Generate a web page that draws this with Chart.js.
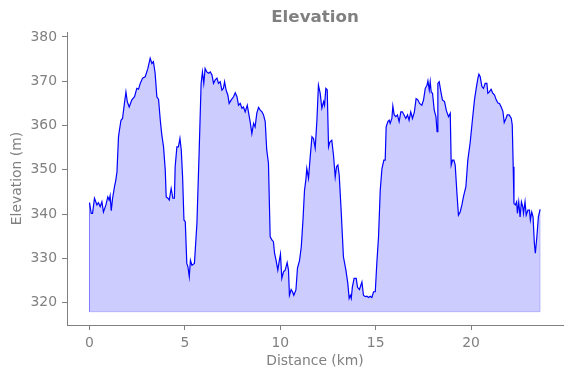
<!DOCTYPE html>
<html>
<head>
<meta charset="utf-8">
<script src="https://cdn.jsdelivr.net/npm/chart.js@4/dist/chart.umd.min.js"></script>
<style>
  html, body { margin: 0; padding: 0; background: #fff; }
  #wrap { width: 571px; height: 378px; }
</style>
</head>
<body>
<div id="wrap"><canvas id="elevChart" width="571" height="378"></canvas></div>
<script>
// Elevation profile
const distKm = [
  0.00, 0.09, 0.16, 0.26, 0.39, 0.47, 0.56, 0.65, 0.73, 0.86, 0.96, 1.03, 1.08, 1.14, 1.21,
  1.31, 1.38, 1.44, 1.52, 1.57, 1.65, 1.73, 1.83, 1.91, 1.98, 2.08, 2.22, 2.36, 2.48, 2.57,
  2.66, 2.78, 2.92, 3.06, 3.18, 3.27, 3.35, 3.44, 3.53, 3.62, 3.71, 3.79, 3.88, 3.97, 4.02,
  4.11, 4.18, 4.28, 4.37, 4.45, 4.49, 4.58, 4.66, 4.74, 4.81, 4.88, 4.95, 5.02, 5.10, 5.16,
  5.23, 5.29, 5.37, 5.50, 5.63, 5.75, 5.85, 5.92, 5.99, 6.06, 6.15, 6.24, 6.33, 6.42, 6.50,
  6.59, 6.68, 6.76, 6.85, 6.94, 7.02, 7.08, 7.16, 7.25, 7.32, 7.43, 7.55, 7.64, 7.73, 7.81,
  7.90, 7.99, 8.07, 8.16, 8.27, 8.33, 8.42, 8.51, 8.60, 8.68, 8.77, 8.86, 8.95, 9.04, 9.12,
  9.21, 9.29, 9.38, 9.47, 9.56, 9.64, 9.70, 9.78, 9.87, 9.94, 10.01, 10.08, 10.17, 10.26, 10.36,
  10.43, 10.48, 10.57, 10.64, 10.71, 10.82, 10.90, 11.01, 11.10, 11.19, 11.27, 11.34, 11.39, 11.48, 11.57,
  11.66, 11.74, 11.83, 11.92, 12.00, 12.09, 12.18, 12.27, 12.32, 12.39, 12.46, 12.53, 12.60, 12.70, 12.79,
  12.88, 12.95, 13.02, 13.09, 13.19, 13.31, 13.44, 13.54, 13.61, 13.67, 13.72, 13.78, 13.87, 13.98, 14.05,
  14.15, 14.28, 14.36, 14.45, 14.54, 14.63, 14.71, 14.80, 14.89, 14.98, 15.06, 15.15, 15.24, 15.33, 15.43,
  15.50, 15.55, 15.64, 15.71, 15.76, 15.85, 15.90, 15.97, 16.06, 16.14, 16.23, 16.32, 16.40, 16.49, 16.58,
  16.67, 16.75, 16.84, 16.93, 17.03, 17.12, 17.21, 17.30, 17.42, 17.51, 17.60, 17.69, 17.74, 17.81, 17.86,
  17.91, 17.98, 18.07, 18.16, 18.22, 18.26, 18.33, 18.42, 18.50, 18.61, 18.71, 18.82, 18.91, 18.96, 19.03,
  19.10, 19.17, 19.26, 19.34, 19.43, 19.52, 19.60, 19.73, 19.83, 19.95, 20.07, 20.18, 20.27, 20.36, 20.41,
  20.48, 20.57, 20.65, 20.74, 20.83, 20.88, 20.96, 21.05, 21.14, 21.23, 21.32, 21.41, 21.49, 21.58, 21.67,
  21.74, 21.82, 21.90, 22.00, 22.11, 22.16, 22.21, 22.25, 22.32, 22.39, 22.43, 22.50, 22.57, 22.64, 22.71,
  22.75, 22.83, 22.89, 22.98, 23.06, 23.11, 23.18, 23.25, 23.32, 23.37, 23.45, 23.53, 23.62
];
const elevM = [
  342.6, 340.2, 340.2, 343.6, 342.1, 342.6, 341.7, 342.8, 340.5, 342.1, 343.9, 343.2, 344.2, 340.8, 343.6,
  346.2, 347.7, 349.6, 357.5, 359.0, 361.2, 361.6, 365.0, 367.6, 365.4, 364.2, 365.8, 366.5, 368.4, 368.2,
  369.5, 370.7, 371.0, 372.9, 375.2, 374.0, 374.4, 371.8, 366.5, 365.9, 361.2, 357.9, 355.2, 350.0, 343.9,
  343.6, 343.2, 345.8, 343.6, 343.6, 350.7, 355.2, 355.2, 357.1, 354.5, 348.4, 338.7, 338.3, 328.9, 328.1,
  325.9, 329.6, 328.5, 328.9, 337.9, 354.5, 369.5, 372.1, 369.5, 372.9, 372.1, 371.8, 372.1, 371.4, 369.5,
  370.3, 370.7, 369.5, 369.9, 368.0, 368.4, 369.9, 368.0, 366.9, 365.0, 365.8, 366.5, 367.4, 366.5, 364.6,
  365.0, 363.9, 364.2, 363.1, 364.6, 363.1, 360.9, 358.2, 360.5, 359.7, 362.8, 364.1, 363.5, 363.1, 362.4,
  360.9, 354.5, 351.5, 334.9, 334.2, 333.8, 331.2, 329.6, 327.4, 329.3, 331.0, 325.5, 327.0, 327.4, 329.1,
  327.4, 321.7, 323.0, 322.5, 321.7, 322.9, 327.8, 329.6, 332.6, 338.7, 345.4, 347.7, 350.3, 348.1, 353.0,
  357.5, 357.1, 354.9, 361.2, 369.1, 367.3, 363.9, 365.4, 364.6, 368.4, 368.1, 355.2, 356.3, 356.7, 353.3,
  348.4, 350.7, 351.1, 348.8, 340.9, 330.4, 327.4, 324.4, 321.0, 321.7, 321.0, 323.6, 325.5, 325.5, 323.5,
  323.0, 324.7, 321.7, 321.4, 321.5, 321.2, 321.5, 321.2, 322.5, 322.5, 328.9, 334.9, 345.4, 350.3, 352.2,
  352.2, 359.7, 360.9, 361.2, 360.5, 361.6, 364.4, 362.4, 362.0, 362.4, 360.9, 363.1, 363.1, 362.4, 361.6,
  362.4, 361.2, 363.1, 361.6, 363.1, 366.1, 365.8, 365.0, 364.6, 365.8, 368.4, 369.1, 370.1, 368.0, 369.9,
  367.6, 367.3, 363.5, 362.0, 358.6, 369.5, 369.9, 367.6, 365.8, 365.4, 363.3, 362.0, 362.8, 351.1, 352.2,
  352.2, 351.1, 344.7, 339.8, 340.5, 342.1, 343.9, 346.2, 352.2, 356.0, 361.2, 365.8, 368.4, 370.7, 371.6,
  371.0, 368.8, 368.4, 369.5, 369.5, 367.3, 367.6, 368.2, 367.3, 366.9, 365.8, 365.1, 365.0, 364.2, 363.2,
  360.7, 361.5, 362.4, 362.4, 361.6, 360.1, 350.7, 342.4, 342.1, 342.8, 340.2, 342.8, 339.4, 342.8, 341.7,
  340.2, 342.8, 339.8, 340.9, 340.9, 338.7, 340.5, 339.4, 333.4, 331.2, 334.9, 339.4, 341.1
];
const fillBase = 318;
const xTicks = [0, 5, 10, 15, 20];
const yTicks = [320, 330, 340, 350, 360, 370, 380];

const FONT = 'DejaVu Sans';
const GREY = '#808080';

const profile = distKm.map((d, i) => ({ x: d, y: elevM[i] }));
const last = distKm.length - 1;
// edge of the filled area (sides and bottom)
const fillEdge = [
  { x: distKm[0], y: elevM[0] },
  { x: distKm[0], y: fillBase },
  { x: distKm[last], y: fillBase },
  { x: distKm[last], y: elevM[last] }
];

function axisStyle(ticks, size) {
  return {
    type: 'linear',
    afterBuildTicks: function(scale) {
      scale.ticks = ticks.map(v => ({ value: v }));
    },
    afterFit: function(scale) {
      if (scale.isHorizontal()) {
        scale.height = size;
        scale.paddingLeft = 0;
        scale.paddingRight = 0;
      } else {
        scale.width = size;
        scale.paddingTop = 0;
        scale.paddingBottom = 0;
      }
    },
    ticks: {
      color: GREY,
      font: { family: FONT, size: 13.9 },
      padding: 5,
      maxRotation: 0,
      autoSkip: false
    },
    grid: {
      display: true,
      drawOnChartArea: false,
      drawTicks: true,
      tickLength: 5,
      tickColor: GREY,
      tickWidth: 1
    },
    border: { display: true, color: GREY, width: 1 }
  };
}

const xScale = axisStyle(xTicks, 53);
xScale.min = -1.18;
xScale.max = 24.82;
xScale.title = {
  display: true,
  text: 'Distance (km)',
  color: GREY,
  font: { family: FONT, size: 13.9 },
  padding: { top: 0, bottom: 8.7 }
};

const yScale = axisStyle(yTicks, 67);
yScale.min = 315;
yScale.max = 381.1;
yScale.title = {
  display: true,
  text: 'Elevation (m)',
  color: GREY,
  font: { family: FONT, size: 13.9 },
  padding: { top: 8.7, bottom: 0 }
};

new Chart(document.getElementById('elevChart').getContext('2d'), {
  type: 'line',
  data: {
    datasets: [
      {
        data: fillEdge,
        borderColor: 'rgba(0,0,255,0.2)',
        borderWidth: 1,
        pointRadius: 0,
        fill: false,
        tension: 0
      },
      {
        data: profile,
        borderColor: '#0000ff',
        borderWidth: 1.2,
        backgroundColor: 'rgba(0,0,255,0.2)',
        pointRadius: 0,
        fill: { value: fillBase },
        tension: 0
      }
    ]
  },
  options: {
    responsive: false,
    animation: false,
    layout: { padding: { left: 0, right: 8, top: 0, bottom: 0 } },
    scales: { x: xScale, y: yScale },
    plugins: {
      legend: { display: false },
      tooltip: { enabled: false },
      title: {
        display: true,
        text: 'Elevation',
        color: GREY,
        fullSize: false,
        font: { family: FONT, size: 16.7, weight: 'bold' },
        padding: { top: 8, bottom: 4 }
      }
    }
  }
});
</script>
</body>
</html>
